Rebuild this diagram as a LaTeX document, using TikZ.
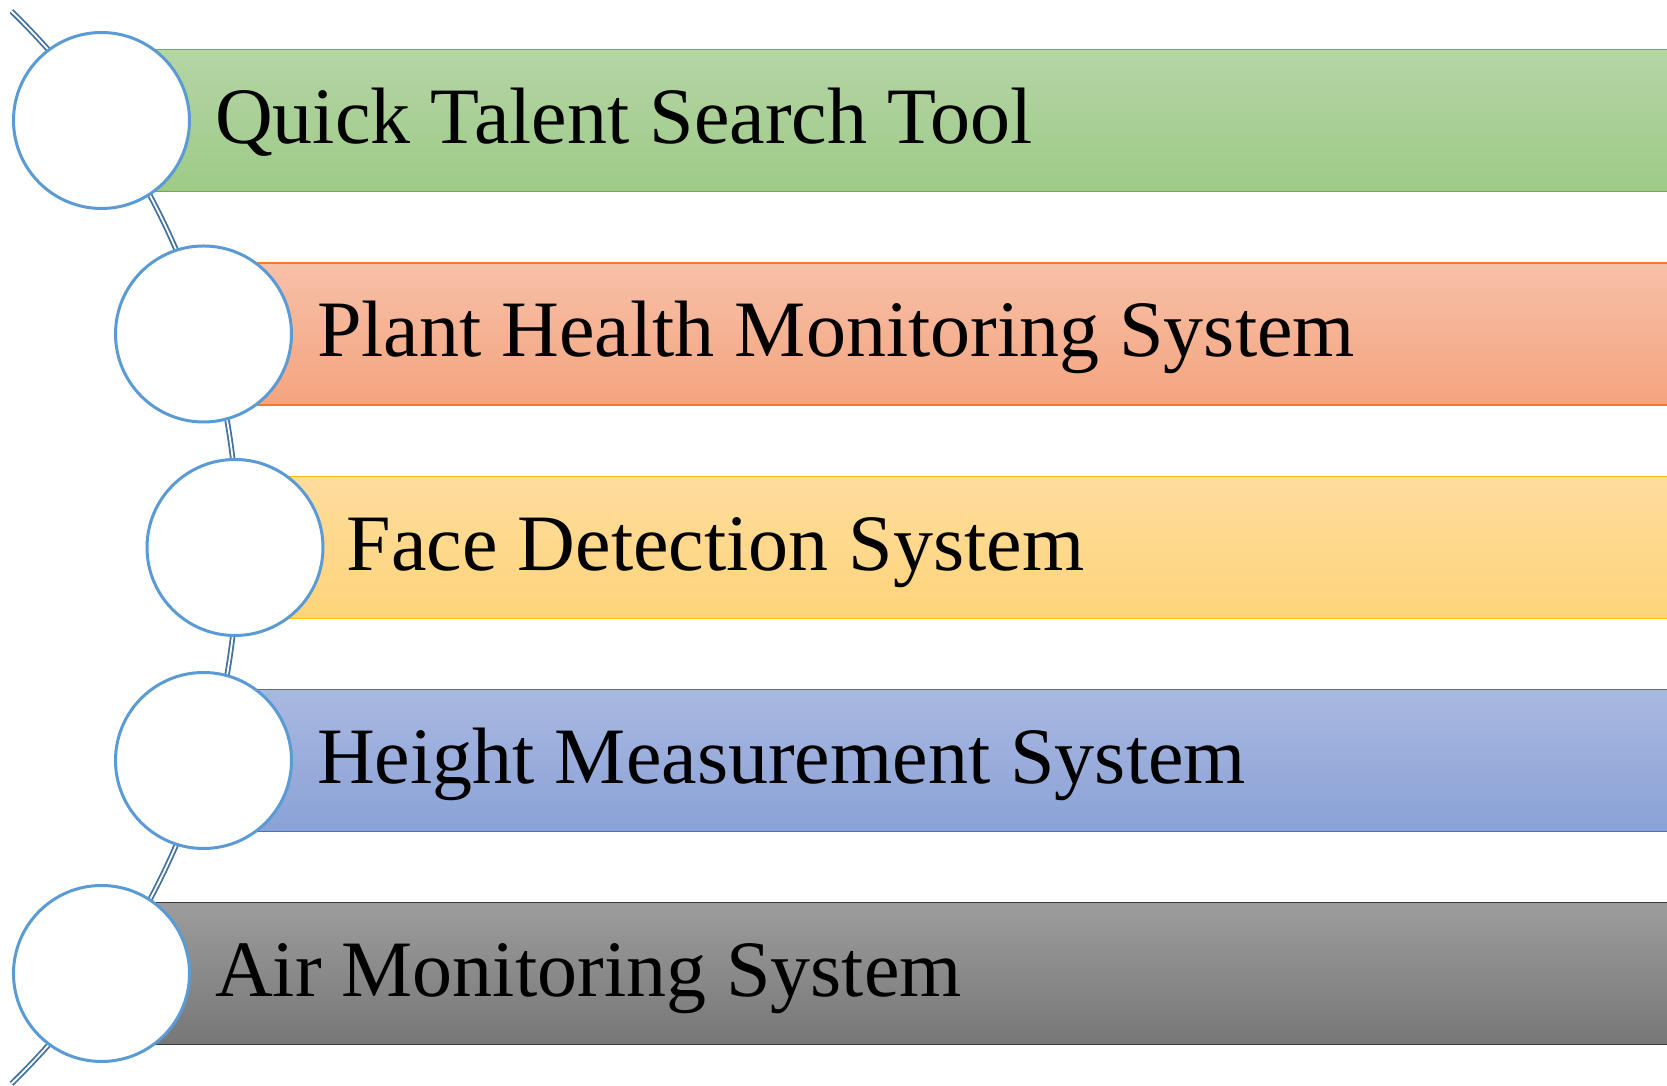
\documentclass[tikz,border=0pt]{standalone}
\usepackage{fontspec}
\setmainfont{Liberation Serif}
\usepackage{xcolor}
\usepackage{tikz}
\usetikzlibrary{positioning}

\definecolor{ringblue}{HTML}{5B9BD5}
\definecolor{arcblue}{HTML}{41719C}
\definecolor{greentop}{HTML}{B4D5A5}
\definecolor{greenbot}{HTML}{9ECA87}
\definecolor{greenedge}{HTML}{70AD47}
\definecolor{orangetop}{HTML}{F7C0A8}
\definecolor{orangebot}{HTML}{F4A47E}
\definecolor{orangeedge}{HTML}{ED7D31}
\definecolor{yellowtop}{HTML}{FEDC9D}
\definecolor{yellowbot}{HTML}{FED47A}
\definecolor{yellowedge}{HTML}{FFC000}
\definecolor{bluetop}{HTML}{A9B8E0}
\definecolor{bluebot}{HTML}{8AA2D7}
\definecolor{blueedge}{HTML}{4472C4}
\definecolor{graytop}{HTML}{9C9C9C}
\definecolor{graybot}{HTML}{777777}
\definecolor{grayedge}{HTML}{3A3A3A}

\tikzset{
    ring/.style={circle, draw=ringblue, line width=3pt, fill=white, minimum size=176pt, inner sep=0pt},
    bar/.style={rectangle, line width=1.5pt, anchor=west, minimum width=1600pt, minimum height=142pt, inner sep=0pt},
    greenbar/.style={bar, top color=greentop, bottom color=greenbot, draw=greenedge},
    orangebar/.style={bar, top color=orangetop, bottom color=orangebot, draw=orangeedge},
    yellowbar/.style={bar, top color=yellowtop, bottom color=yellowbot, draw=yellowedge},
    bluebar/.style={bar, top color=bluetop, bottom color=bluebot, draw=blueedge},
    graybar/.style={bar, top color=graytop, bottom color=graybot, draw=grayedge},
    label/.style={anchor=base west, inner sep=0pt, font=\fontsize{80}{96}\selectfont},
    arcline/.style={draw=arcblue, double=white, line width=1.8pt, double distance=1.8pt}
}

\begin{document}
\begin{tikzpicture}[x=1pt, y=1pt]
        \useasboundingbox (0,0) rectangle (1667,1086);

        % Backbone arc
        \coordinate (hub) at (-510,538.5);
        \draw [arcline] (hub) ++(45.8:748) arc[start angle=45.8, end angle=-45.8, radius=748];

        % Circle positions
        \coordinate (p1) at (101.5,965.5);
        \coordinate (p2) at (203.5,752);
        \coordinate (p3) at (235,538.5);
        \coordinate (p4) at (203.5,325.5);
        \coordinate (p5) at (101.5,112.5);

        % Bars
        \node (bar1) [greenbar] at (p1) {};
        \node (bar2) [orangebar] at (p2) {};
        \node (bar3) [yellowbar] at (p3) {};
        \node (bar4) [bluebar] at (p4) {};
        \node (bar5) [graybar] at (p5) {};

        % Circles
        \node (c1) [ring] at (p1) {};
        \node (c2) [ring] at (p2) {};
        \node (c3) [ring] at (p3) {};
        \node (c4) [ring] at (p4) {};
        \node (c5) [ring] at (p5) {};

        % Labels
        \node (t1) [label] at ([xshift=24pt, yshift=-23pt]c1.east) {Quick Talent Search Tool};
        \node (t2) [label] at ([xshift=24pt, yshift=-23pt]c2.east) {Plant Health Monitoring System};
        \node (t3) [label] at ([xshift=22pt, yshift=-23pt]c3.east) {Face Detection System};
        \node (t4) [label] at ([xshift=24pt, yshift=-23pt]c4.east) {Height Measurement System};
        \node (t5) [label] at ([xshift=24pt, yshift=-23pt]c5.east) {Air Monitoring System};
    \end{tikzpicture}
\end{document}
